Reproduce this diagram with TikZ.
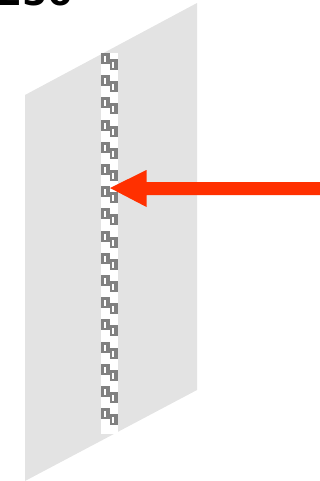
\documentclass[tikz,border=0pt]{standalone}
\usepackage{fontspec}
\setmainfont{DejaVu Sans}
\definecolor{pane}{RGB}{227,227,227}
\definecolor{chk}{RGB}{128,128,128}
\definecolor{arr}{RGB}{255,48,0}
\tikzset{cellw/.style={fill=white,draw=none},cellg/.style={fill=chk,draw=none}}
\begin{document}
\begin{tikzpicture}[x=1pt,y=-1pt]
\useasboundingbox (0,0) rectangle (320,481);
\begin{scope}
\clip (0,0) rectangle (320,481);
\node[anchor=base west,inner sep=0pt,font=\bfseries\fontsize{36}{36}\selectfont] (lab) at (-3,6) {256};
\end{scope}
\fill[pane] (25,95) -- (197,3) -- (197,390) -- (25,481) -- cycle;
\fill[white] (101,53) rectangle (118,434);
\foreach \i in {0,...,16}{
  \pgfmathsetmacro{\y}{53+22.2*\i}
  \fill[cellg] (101,\y) rectangle (109.5,\y+11);
  \fill[cellg] (109.5,\y+6) rectangle (118,\y+17);
  \fill[white] (104,\y+3) rectangle (106,\y+9);
  \fill[white] (112,\y+9) rectangle (114,\y+15);
}
\coordinate (tail) at (320,188);
\coordinate (tip) at (110,188);
\fill[arr] (tail|-0,182) -- (146.5,182) -- (146.5,170) -- (tip) -- (146.5,207) -- (146.5,195) -- (320,195) -- cycle;
\end{tikzpicture}
\end{document}
